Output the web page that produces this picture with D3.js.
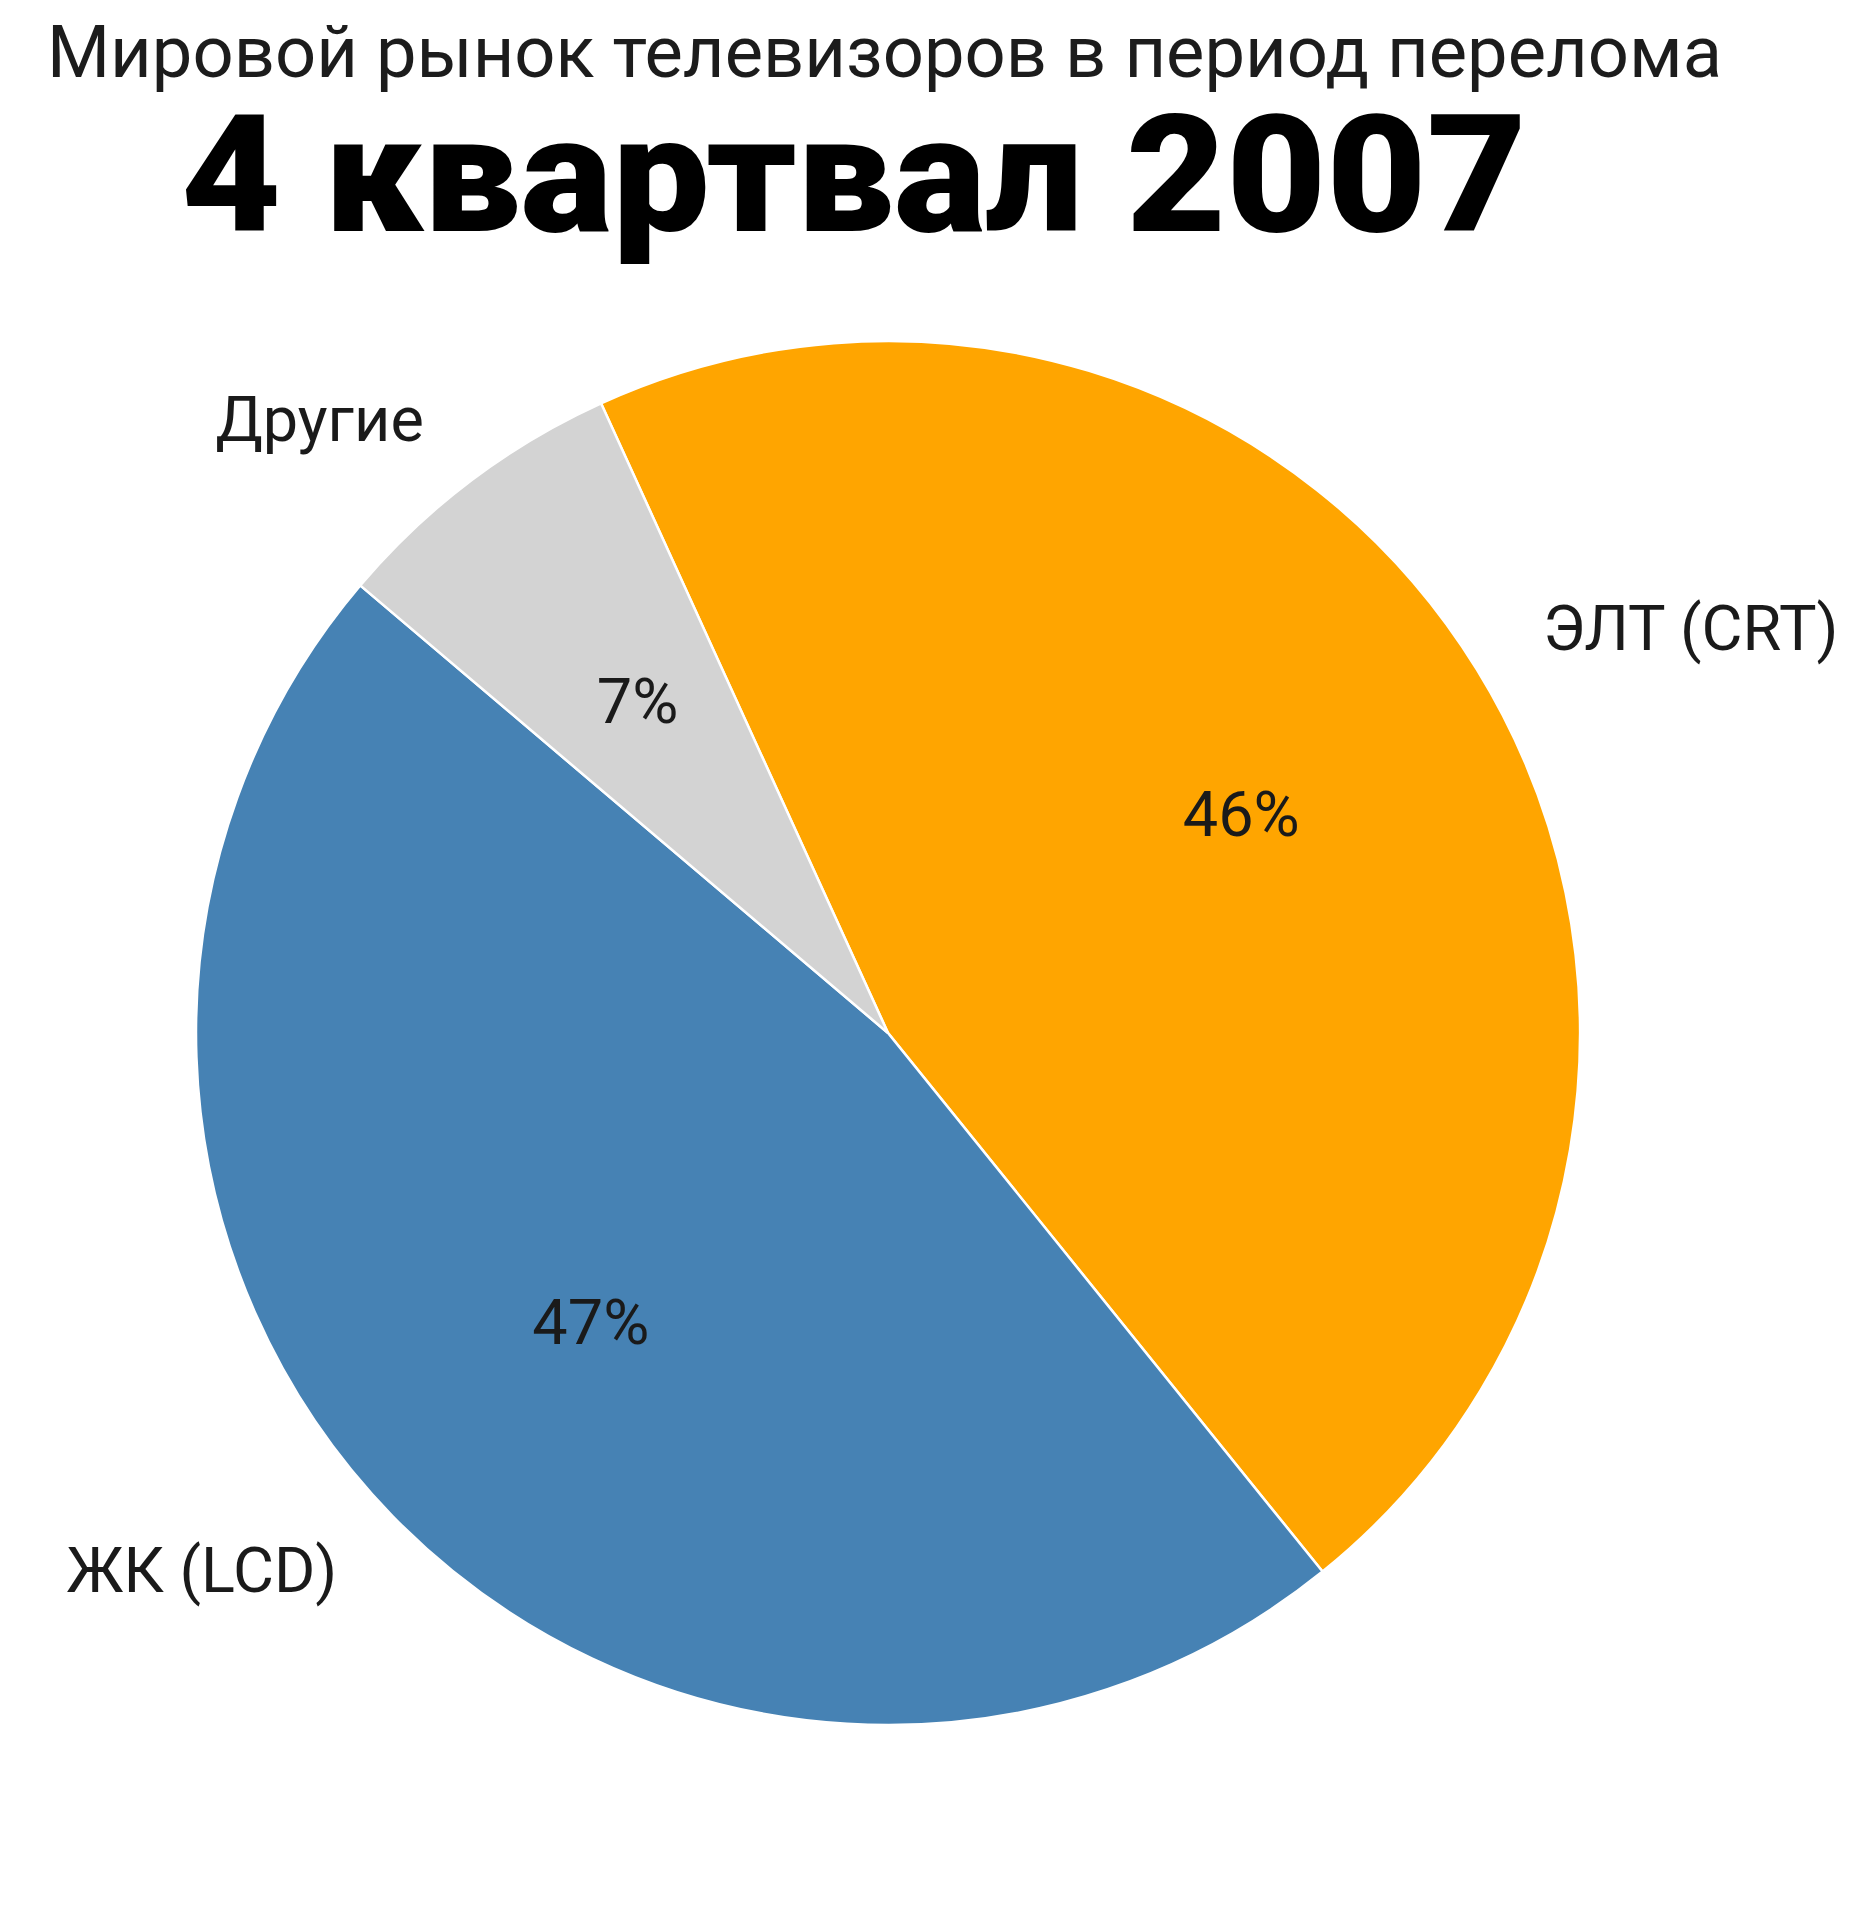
<!DOCTYPE html>
<html>
<head>
<meta charset="utf-8">
<script src="https://cdn.jsdelivr.net/npm/d3@7"></script>
<style>
  html, body { margin: 0; padding: 0; background: #fff; }
  svg { display: block; }
</style>
</head>
<body>
<svg id="chart" width="1860" height="1920"></svg>
<script>
// ---- data ----
const subtitleText = "Мировой рынок телевизоров в период перелома";
const titleText = "4 квартвал 2007";
const categories = ["ЭЛТ (CRT)", "ЖК (LCD)", "Другие"];
const values = [46, 47, 7];
const colors = ["#FFA500", "#4682B4", "#D3D3D3"];

// ---- layout ----
const W = 1860, H = 1920;
const cx = 888, cy = 1033, R = 692;
const startDeg = -24.5;

const svg = d3.select("#chart");
svg.append("rect").attr("width", W).attr("height", H).attr("fill", "#fff");

svg.append("text")
  .attr("x", 47).attr("y", 77)
  .attr("font-family", "Roboto, 'Noto Sans', sans-serif")
  .attr("font-size", 72)
  .attr("fill", "#1c1c1c")
  .attr("textLength", 1675)
  .attr("lengthAdjust", "spacingAndGlyphs")
  .text(subtitleText);

svg.append("text")
  .attr("x", 181).attr("y", 231)
  .attr("font-family", "Roboto, 'Noto Sans', sans-serif")
  .attr("font-weight", 900)
  .attr("font-size", 163)
  .attr("fill", "#000")
  .attr("textLength", 1346)
  .attr("lengthAdjust", "spacingAndGlyphs")
  .text(titleText);

const data = categories.map((c, i) => ({ name: c, value: values[i], color: colors[i] }));

const start = startDeg * Math.PI / 180;
const pie = d3.pie().sort(null).value(d => d.value)
  .startAngle(start).endAngle(start + 2 * Math.PI);
const arcs = pie(data);

const arc = d3.arc().innerRadius(0).outerRadius(R);
const pctArc = d3.arc().innerRadius(R * 0.6).outerRadius(R * 0.6);
const outArc = d3.arc().innerRadius(R * 1.112).outerRadius(R * 1.112);

const g = svg.append("g").attr("transform", `translate(${cx},${cy})`);

g.selectAll("path.slice").data(arcs).enter().append("path")
  .attr("class", "slice")
  .attr("d", arc)
  .attr("fill", d => d.data.color)
  .attr("stroke", "#fff")
  .attr("stroke-width", 2.5);

const total = d3.sum(values);
g.selectAll("text.pct").data(arcs).enter().append("text")
  .attr("class", "pct")
  .attr("transform", d => `translate(${pctArc.centroid(d)})`)
  .attr("text-anchor", "middle")
  .attr("dominant-baseline", "central")
  .attr("font-family", "Roboto, 'Noto Sans', sans-serif")
  .attr("font-size", 63)
  .attr("fill", "#1a1a1a")
  .text(d => Math.round(d.data.value / total * 100) + "%");

g.selectAll("text.lbl").data(arcs).enter().append("text")
  .attr("class", "lbl")
  .attr("transform", d => `translate(${outArc.centroid(d)})`)
  .attr("text-anchor", d => ((d.startAngle + d.endAngle) / 2) % (2 * Math.PI) < Math.PI && (d.startAngle + d.endAngle) / 2 > 0 ? "start" : "end")
  .attr("dominant-baseline", "central")
  .attr("font-family", "Roboto, 'Noto Sans', sans-serif")
  .attr("font-size", 63)
  .attr("fill", "#1a1a1a")
  .text(d => d.data.name);
</script>
</body>
</html>
